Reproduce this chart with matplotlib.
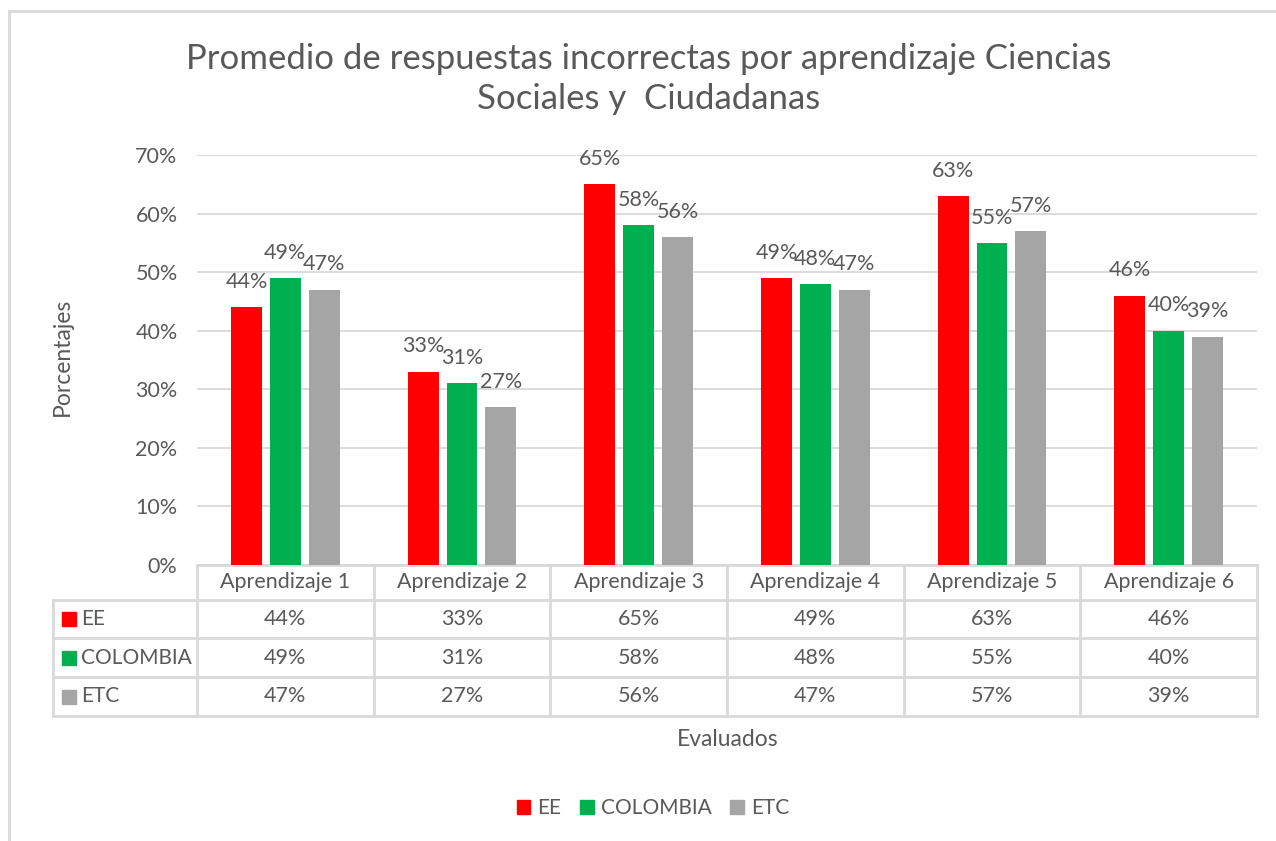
import numpy as np
import matplotlib.pyplot as plt
from matplotlib.lines import Line2D
from matplotlib.patches import Rectangle

plt.rcParams['font.family'] = ['Lato', 'DejaVu Sans']

# datos
categorias = ["Aprendizaje 1", "Aprendizaje 2", "Aprendizaje 3",
              "Aprendizaje 4", "Aprendizaje 5", "Aprendizaje 6"]
series = ["EE", "COLOMBIA", "ETC"]
ee = [44, 33, 65, 49, 63, 46]
colombia = [49, 31, 58, 48, 55, 40]
etc = [47, 27, 56, 47, 57, 39]
valores = [ee, colombia, etc]
colores = ["#FF0000", "#00B050", "#A5A5A5"]

W, H = 1276, 841
TXT = "#595959"
GRID = "#D9D9D9"
FS = 15

fig = plt.figure(figsize=(W / 100, H / 100), dpi=100)

def fx(px):
    return px / W

def fy(py):
    return 1 - py / H

# area del grafico
x0, x1 = 197, 1257
y_top, y_bot = 155, 565
ax = fig.add_axes([fx(x0), fy(y_bot), fx(x1 - x0), (y_bot - y_top) / H])

n = len(categorias)
x = np.arange(n)
ancho = 0.175
paso = 0.22
for i, (nombre, vals, c) in enumerate(zip(series, valores, colores)):
    pos = x + (i - 1) * paso
    ax.bar(pos, vals, ancho, color=c, label=nombre, zorder=3)
    for p, v in zip(pos, vals):
        ax.text(p, v + 2.6, f"{v}%", ha="center", va="bottom",
                fontsize=15.5, color=TXT)

ax.set_xlim(-0.5, n - 0.5)
ax.set_ylim(0, 70)
ax.set_yticks(np.arange(0, 71, 10))
ax.set_yticklabels([f"{t}%" for t in range(0, 71, 10)])
ax.tick_params(axis="y", length=0, labelsize=15.5, labelcolor=TXT, pad=14)
ax.set_xticks([])
ax.grid(axis="y", color=GRID, linewidth=1.3, zorder=0)
for s in ["top", "right", "left"]:
    ax.spines[s].set_visible(False)
ax.spines["bottom"].set_color(GRID)
ax.spines["bottom"].set_linewidth(2)

# tabla de datos
col_w = (x1 - x0) / n
filas = [565, 600, 638, 677, 716]
tx0 = 53

def linea(xa, ya, xb, yb):
    fig.add_artist(Line2D([fx(xa), fx(xb)], [fy(ya), fy(yb)],
                          color=GRID, linewidth=2))

for k in range(n + 1):
    xv = x0 + k * col_w
    linea(xv, filas[0], xv, filas[-1])
linea(tx0, filas[1], tx0, filas[-1])
for yh in filas[1:]:
    linea(tx0, yh, x1, yh)

for k, cat in enumerate(categorias):
    fig.text(fx(x0 + (k + 0.5) * col_w), fy((filas[0] + filas[1]) / 2),
             cat, ha="center", va="center", fontsize=15.5, color=TXT)

for i, (nombre, vals, c) in enumerate(zip(series, valores, colores)):
    yc = (filas[i + 1] + filas[i + 2]) / 2
    fig.add_artist(Rectangle((fx(62), fy(yc + 7)), fx(14), 14 / H,
                             color=c, transform=fig.transFigure))
    fig.text(fx(81), fy(yc), nombre, ha="left", va="center",
             fontsize=FS, color=TXT)
    for k, v in enumerate(vals):
        fig.text(fx(x0 + (k + 0.5) * col_w), fy(yc), f"{v}%",
                 ha="center", va="center", fontsize=15.5, color=TXT)

# titulos
fig.text(fx(649), fy(79), "Promedio de respuestas incorrectas por aprendizaje Ciencias\nSociales y  Ciudadanas",
         ha="center", va="center", fontsize=25, color=TXT, linespacing=1.3)
fig.text(fx(62), fy(357), "Porcentajes", rotation=90, ha="center",
         va="center", fontsize=16.5, color=TXT)
fig.text(fx(728), fy(740), "Evaluados", ha="center", va="center",
         fontsize=16.5, color=TXT)

# leyenda
handles = [Rectangle((0, 0), 1, 1, color=c) for c in colores]
fig.legend(handles, series, loc="center", bbox_to_anchor=(fx(653), fy(808)),
           ncol=3, frameon=False, fontsize=FS, labelcolor=TXT,
           handlelength=0.65, handleheight=0.65, handletextpad=0.35,
           columnspacing=0.9)

# borde del grafico
fig.add_artist(Line2D([fx(9), fx(9)], [fy(11), 0], color=GRID, linewidth=2))
fig.add_artist(Line2D([fx(9), 1], [fy(11), fy(11)], color=GRID, linewidth=2))

fig.savefig("out.png", dpi=100, facecolor="white")
